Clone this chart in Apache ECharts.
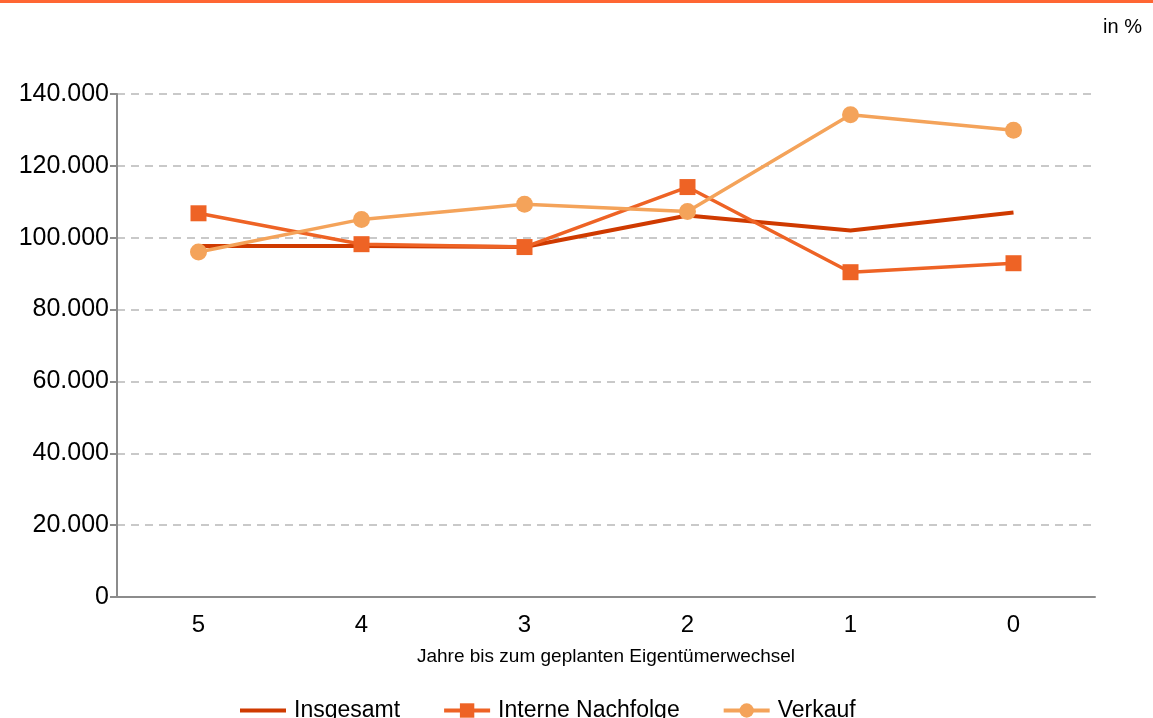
<!DOCTYPE html>
<html>
<head>
<meta charset="utf-8">
<script src="https://cdn.jsdelivr.net/npm/echarts@6/dist/echarts.min.js"></script>
<style>
  html, body { margin: 0; padding: 0; background: #fff; }
  #chart { width: 1153px; height: 718px; }
</style>
</head>
<body>
<div id="chart"></div>
<script>
  // Jahre bis zum geplanten Eigentümerwechsel
  var categories = ['5', '4', '3', '2', '1', '0']
  var insgesamt = [97.7, 97.7, 97.4, 106.2, 102.0, 107.0]
  var interneNachfolge = [106.8, 98.2, 97.4, 114.1, 90.4, 92.9]
  var verkauf = [96.0, 105.1, 109.3, 107.3, 134.2, 129.9]

  var font = '"Liberation Sans", Arial, sans-serif'

  var chart = echarts.init(document.getElementById('chart'))
  var option = {
    animation: false,
    textStyle: { fontFamily: font },
    color: ['#CF3A00', '#EE6325', '#F4A35A'],
    title: {
      text: 'in %',
      right: 6,
      top: 12,
      textStyle: { fontFamily: font, fontSize: 20, fontWeight: 'normal', color: '#000' }
    },
    graphic: [{
      type: 'rect',
      left: 0,
      top: 0,
      shape: { width: 1153, height: 3 },
      style: { fill: '#FF6633' }
    }],
    legend: {
      left: 233,
      top: 694,
      itemWidth: 46,
      itemHeight: 18,
      itemGap: 42,
      lineStyle: { width: 4 },
      textStyle: { fontFamily: font, fontSize: 23, color: '#000', padding: [0, 0, 0, 3] },
      data: [
        { name: 'Insgesamt', itemStyle: { opacity: 0 } },
        'Interne Nachfolge',
        'Verkauf'
      ]
    },
    grid: {
      left: 117,
      right: 58,
      top: 94,
      bottom: 121,
      containLabel: false
    },
    xAxis: {
      type: 'category',
      data: categories,
      boundaryGap: true,
      name: 'Jahre bis zum geplanten Eigentümerwechsel',
      nameLocation: 'middle',
      nameGap: 50,
      nameTextStyle: { fontFamily: font, fontSize: 19, color: '#000' },
      axisLine: { lineStyle: { color: '#8c8c8c', width: 2 } },
      axisTick: { show: false },
      axisLabel: { fontFamily: font, fontSize: 24, color: '#000', margin: 16 }
    },
    yAxis: {
      type: 'value',
      min: 0,
      max: 140,
      interval: 20,
      axisLine: { show: true, lineStyle: { color: '#8c8c8c', width: 2 } },
      axisTick: { show: true, length: 7, lineStyle: { color: '#8c8c8c', width: 2 } },
      axisLabel: {
        fontFamily: font,
        fontSize: 25,
        color: '#000',
        margin: 8,
        formatter: function (v) {
          return v === 0 ? '0' : v + '.000'
        }
      },
      splitLine: { lineStyle: { color: '#b8b8b8', width: 1.5, type: [8, 6] } }
    },
    series: [
      {
        name: 'Insgesamt',
        type: 'line',
        data: insgesamt,
        symbol: 'none',
        lineStyle: { width: 4 }
      },
      {
        name: 'Interne Nachfolge',
        type: 'line',
        data: interneNachfolge,
        symbol: 'rect',
        symbolSize: 16,
        lineStyle: { width: 3.5 }
      },
      {
        name: 'Verkauf',
        type: 'line',
        data: verkauf,
        symbol: 'circle',
        symbolSize: 17,
        lineStyle: { width: 3.5 }
      }
    ]
  }
  chart.setOption(option)
  window.addEventListener('resize', function () {
    chart.resize()
  })
</script>
</body>
</html>
